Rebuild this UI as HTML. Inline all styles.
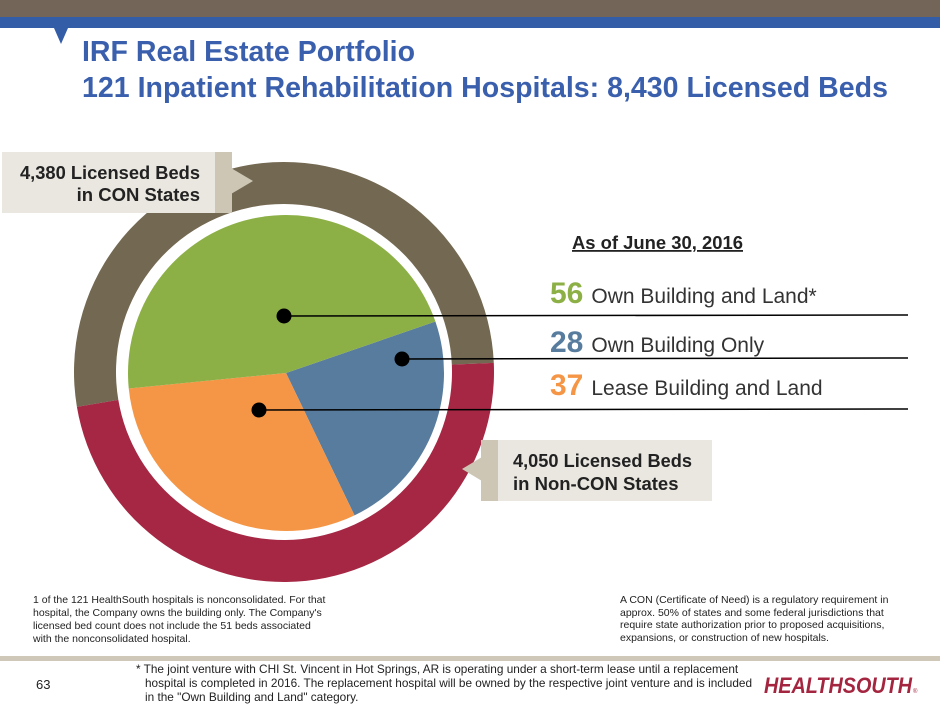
<!DOCTYPE html>
<html><head><meta charset="utf-8"><style>
body{margin:0;width:940px;height:705px;overflow:hidden;background:#fff;font-family:"Liberation Sans",Arial,sans-serif}
svg{display:block}
svg text{font-family:"Liberation Sans",Arial,sans-serif}
</style></head><body>
<svg id="chart" width="940" height="705" viewBox="0 0 940 705" xmlns="http://www.w3.org/2000/svg">
<rect x="0" y="0" width="940" height="17" fill="#736557"/>
<rect x="0" y="17" width="940" height="11" fill="#345da8"/>
<polygon points="54,28 68,28 61,44" fill="#345da8"/>
<text x="82" y="61" font-size="29" font-weight="bold" fill="#3a5fad" textLength="333" lengthAdjust="spacingAndGlyphs">IRF Real Estate Portfolio</text>
<text x="82" y="97" font-size="29" font-weight="bold" fill="#3a5fad" textLength="806" lengthAdjust="spacingAndGlyphs">121 Inpatient Rehabilitation Hospitals: 8,430 Licensed Beds</text>
<g id="ring"></g>
<g id="pie"></g>
<g>
<rect x="2" y="152" width="214" height="61" fill="#eae7e0"/>
<rect x="215" y="152" width="17" height="61" fill="#cdc6b5"/>
<polygon points="231,168 253,181 231,194" fill="#cdc6b5"/>
<text x="200" y="179" font-size="18.5" font-weight="bold" fill="#222" text-anchor="end" textLength="180" lengthAdjust="spacingAndGlyphs">4,380 Licensed Beds</text>
<text x="200" y="201" font-size="18.5" font-weight="bold" fill="#222" text-anchor="end">in CON States</text>
</g>
<g>
<rect x="498" y="440" width="214" height="61" fill="#eae7e0"/>
<rect x="481" y="440" width="17" height="61" fill="#cdc6b5"/>
<polygon points="482,457 462,469 482,481" fill="#cdc6b5"/>
<text x="513" y="467" font-size="18.5" font-weight="bold" fill="#222" textLength="179" lengthAdjust="spacingAndGlyphs">4,050 Licensed Beds</text>
<text x="513" y="490" font-size="18.5" font-weight="bold" fill="#222">in Non-CON States</text>
</g>
<text x="572" y="249" font-size="18" font-weight="bold" fill="#222" text-decoration="underline" textLength="171" lengthAdjust="spacingAndGlyphs">As of June 30, 2016</text>
<g id="legend"></g>
<g font-size="10.5" fill="#222">
<text x="33" y="603">1 of the 121 HealthSouth hospitals is nonconsolidated. For that</text>
<text x="33" y="616">hospital, the Company owns the building only. The Company's</text>
<text x="33" y="629">licensed bed count does not include the 51 beds associated</text>
<text x="33" y="642">with the nonconsolidated hospital.</text>
</g>
<g font-size="10.5" fill="#222">
<text x="620" y="603">A  CON (Certificate of Need) is a regulatory requirement in</text>
<text x="620" y="616">approx. 50% of states and some federal jurisdictions that</text>
<text x="620" y="628">require state authorization prior to proposed acquisitions,</text>
<text x="620" y="641">expansions, or construction of new hospitals.</text>
</g>
<rect x="0" y="656" width="940" height="5" fill="#cfc8b8"/>
<text x="36" y="689" font-size="13" fill="#222">63</text>
<g font-size="11.8" fill="#222">
<text x="136" y="673">* The joint venture with CHI St. Vincent in Hot Springs, AR is operating under a short-term lease until a replacement</text>
<text x="145" y="687">hospital is completed in 2016. The replacement hospital will be owned by the respective joint venture and is included</text>
<text x="145" y="701">in the "Own Building and Land" category.</text>
</g>
<text x="764" y="693" font-size="22" font-weight="bold" font-style="italic" fill="#a4253f" textLength="148" lengthAdjust="spacingAndGlyphs">HEALTHSOUTH</text>
<text x="913" y="693" font-size="6" fill="#a4253f">®</text>
</svg>
<script>
const ringLabels = ["CON States", "Non-CON States"];
const ringBeds = [4380, 4050];
const ringColors = ["#736851", "#a52744"];
const pieCategories = ["Own Building Only", "Lease Building and Land", "Own Building and Land*"];
const pieValues = [28, 37, 56];
const pieColors = ["#577c9d", "#f59646", "#8cb046"];
const legendNumbers = ["56", "28", "37"];
const legendLabels = ["Own Building and Land*", "Own Building Only", "Lease Building and Land"];
const legendColors = ["#8cb046", "#577c9d", "#f59646"];

const NS = "http://www.w3.org/2000/svg";
const rad = d => d * Math.PI / 180;
function pt(cx, cy, r, a) { return [cx + r * Math.cos(rad(a)), cy + r * Math.sin(rad(a))]; }
function arcPath(cx, cy, r0, r1, a0, a1) {
  const large = (a1 - a0) > 180 ? 1 : 0;
  const p1 = pt(cx, cy, r1, a0), p2 = pt(cx, cy, r1, a1);
  if (r0 === 0) return `M${cx},${cy}L${p1}A${r1},${r1} 0 ${large} 1 ${p2}Z`;
  const p3 = pt(cx, cy, r0, a1), p4 = pt(cx, cy, r0, a0);
  return `M${p1}A${r1},${r1} 0 ${large} 1 ${p2}L${p3}A${r0},${r0} 0 ${large} 0 ${p4}Z`;
}
const ring = document.getElementById('ring');
const bedsTotal = ringBeds.reduce((a, b) => a + b, 0);
const nonConSpan = ringBeds[1] / bedsTotal * 360;
const ringStart = -2.5;
const ringSegs = [[ringStart + nonConSpan, ringStart + 360, 0], [ringStart, ringStart + nonConSpan, 1]];
ringSegs.forEach(s => {
  const p = document.createElementNS(NS, 'path');
  p.setAttribute('d', arcPath(284, 372, 168, 210, s[0], s[1]));
  p.setAttribute('fill', ringColors[s[2]]);
  
  
  ring.appendChild(p);
});
const pie = document.getElementById('pie');
const total = pieValues.reduce((a, b) => a + b, 0);
let a = -19;
pieValues.forEach((v, i) => {
  const span = v / total * 360;
  const p = document.createElementNS(NS, 'path');
  p.setAttribute('d', arcPath(286, 373, 0, 158, a, a + span));
  p.setAttribute('fill', pieColors[i]);
  
  
  pie.appendChild(p);
  a += span;
});
const leg = document.getElementById('legend');
const dots = [[284, 316], [402, 359], [259, 410]];
const rowsY = [303, 352, 395];
legendNumbers.forEach((n, i) => {
  const line = document.createElementNS(NS, 'line');
  line.setAttribute('x1', dots[i][0]); line.setAttribute('y1', dots[i][1]);
  line.setAttribute('x2', 908); line.setAttribute('y2', dots[i][1] - 1);
  line.setAttribute('stroke', '#000'); line.setAttribute('stroke-width', '1.5');
  
  
  leg.appendChild(line);
  const c = document.createElementNS(NS, 'circle');
  c.setAttribute('cx', dots[i][0]); c.setAttribute('cy', dots[i][1]); c.setAttribute('r', 7.5);
  c.setAttribute('fill', '#000');
  
  
  leg.appendChild(c);
  const t = document.createElementNS(NS, 'text');
  t.setAttribute('x', 550); t.setAttribute('y', rowsY[i]);
  
  
  const num = document.createElementNS(NS, 'tspan');
  num.setAttribute('font-size', '30'); num.setAttribute('font-weight', 'bold'); num.setAttribute('fill', legendColors[i]);
  num.textContent = n;
  const lab = document.createElementNS(NS, 'tspan');
  lab.setAttribute('font-size', '21'); lab.setAttribute('fill', '#333'); lab.setAttribute('dx', '8');
  lab.textContent = legendLabels[i];
  t.appendChild(num); t.appendChild(lab);
  leg.appendChild(t);
});
</script>
</body></html>
